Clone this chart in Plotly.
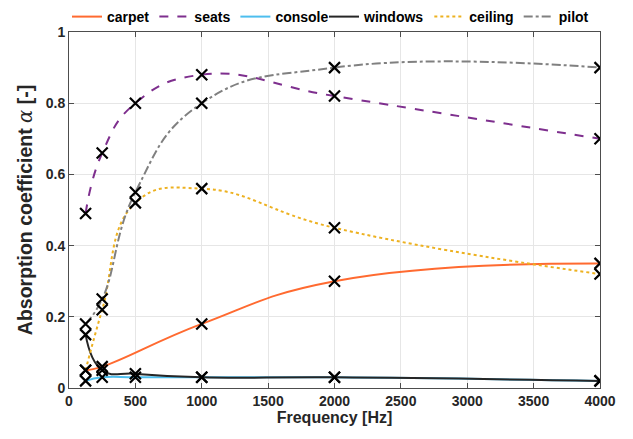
import plotly.graph_objects as go

freq = [125, 250, 500, 1000, 2000, 4000]
freq_carpet = [125, 250, 1000, 2000, 4000]
carpet = [0.05, 0.06, 0.18, 0.30, 0.35]
seats = [0.49, 0.66, 0.80, 0.88, 0.82, 0.70]
console = [0.02, 0.03, 0.03, 0.03, 0.03, 0.02]
windows = [0.15, 0.05, 0.04, 0.03, 0.03, 0.02]
ceiling = [0.05, 0.22, 0.52, 0.56, 0.45, 0.32]
pilot = [0.18, 0.25, 0.55, 0.80, 0.90, 0.90]

series = [
    ("carpet", freq_carpet, carpet, "#FF6A30", "solid", "legend"),
    ("seats", freq, seats, "#7E2F8E", "dash", "legend"),
    ("console", freq, console, "#4DBEEE", "solid", "legend"),
    ("windows", freq, windows, "#262626", "solid", "legend2"),
    ("ceiling", freq, ceiling, "#EDB120", "dot", "legend2"),
    ("pilot", freq, pilot, "#808080", "dashdot", "legend2"),
]

fig = go.Figure()
for name, xs, ys, col, dash, lg in series:
    fig.add_trace(go.Scatter(x=xs, y=ys, mode="lines", name=name, legend=lg,
                             line=dict(color=col, width=2, dash=dash,
                                       shape="spline", smoothing=1.3)))
for name, xs, ys, col, dash, lg in series:
    fig.add_trace(go.Scatter(x=xs, y=ys, mode="markers", showlegend=False,
                             marker=dict(symbol="x-thin", size=11, color="black",
                                         line=dict(color="black", width=2.2))))

axis_common = dict(showline=True, linecolor="#4d4d4d", linewidth=1, mirror="ticks",
                   ticks="inside", ticklen=5, tickcolor="#4d4d4d",
                   showgrid=True, gridcolor="#e6e6e6", zeroline=False,
                   tickfont=dict(family="Liberation Sans", size=14, color="#262626", weight="bold"))

legend_common = dict(orientation="h", xref="container", yref="container",
                     y=1 - 17 / 439, yanchor="middle", xanchor="left",
                     font=dict(family="Liberation Sans", size=14, color="black", weight="bold"),
                     itemwidth=30, tracegroupgap=0, bgcolor="rgba(0,0,0,0)", borderwidth=0)

fig.update_layout(
    width=633, height=439,
    margin=dict(l=69, r=33, t=32, b=51, autoexpand=False),
    paper_bgcolor="white", plot_bgcolor="white",
    font=dict(family="Liberation Sans", size=14, color="#262626"),
    legend=dict(x=67 / 633, **legend_common),
    legend2=dict(x=324 / 633, **legend_common),
    xaxis=dict(range=[0, 4000], tickvals=[0, 500, 1000, 1500, 2000, 2500, 3000, 3500, 4000],
               title=dict(text="<b>Frequency [Hz]</b>", font=dict(size=16), standoff=3),
               **axis_common),
    yaxis=dict(range=[0, 1], tickvals=[0, 0.2, 0.4, 0.6, 0.8, 1],
               ticktext=["0", "0.2", "0.4", "0.6", "0.8", "1"],
               title=dict(text="<b>Absorption coefficient <span style='font-family:DejaVu Serif;font-weight:normal'><i>α</i></span> [-]</b>",
                          font=dict(size=19.5), standoff=7),
               **axis_common),
)

fig.write_html("out.html", config={"displayModeBar": False},
               post_script="document.body.style.margin='0';document.body.style.padding='0';")
